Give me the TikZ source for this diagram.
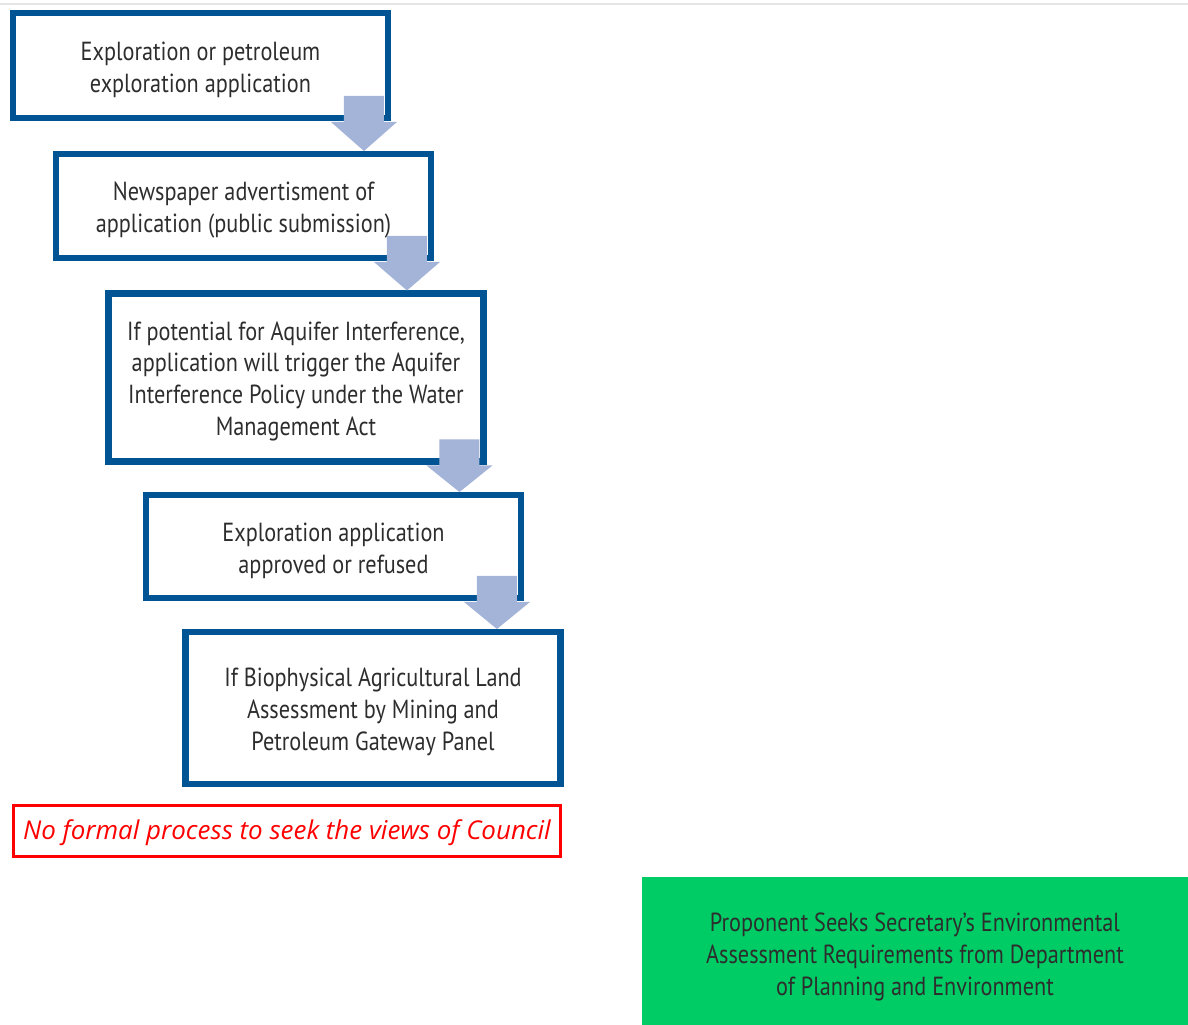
\documentclass[tikz,border=0pt]{standalone}
\usepackage{fontspec}
\setmainfont{PT Sans}[FakeStretch=0.85]
\newfontfamily\notefont{Open Sans}
\usetikzlibrary{calc}
\definecolor{stepframe}{RGB}{0,84,147}
\definecolor{steparrow}{RGB}{163,180,216}
\definecolor{noteframe}{RGB}{255,0,0}
\definecolor{panelgreen}{RGB}{0,204,102}
\definecolor{textgrey}{RGB}{45,45,45}

% block arrow from the lower right corner of one step down to the next step
\newcommand{\steparrowfrom}[2]{%
  \coordinate (#1base) at ($(#1.south east)+(-24,4)$);
  \coordinate (#1tip) at ($(#2.north)+(0,-3)$);
  \fill[steparrow] ($(#1base)+(-20,-26)$) -- ($(#1base)+(20,-26)$) -- ($(#1base)+(20,0)$)
    -- ($(#1base)+(33,0)$) -- (#1base |- #1tip) -- ($(#1base)+(-33,0)$) -- ($(#1base)+(-20,0)$) -- cycle;
}
% taller first line, pushes the text block down a little
\newcommand{\toppad}{\rule{0pt}{0.53cm}}

\tikzset{
  stepbox/.style={draw=stepframe, line width=0.13cm, minimum width=7.5cm, outer sep=0pt,
    align=center, text=textgrey, font=\fontsize{14.9}{18.2}\selectfont},
}

\begin{document}
\begin{tikzpicture}[x=0.02cm, y=-0.02cm]
			\useasboundingbox (0,0) rectangle (1188,1025);
			\draw [black!10, line width=0.03cm] (0,4) -- (1188,4);

			\node [stepbox, minimum height=2.1cm] (application) at (200.5,65.5) {\toppad Exploration or petroleum\\exploration application};
			\node [stepbox, minimum height=2.08cm] (advert) at (243.5,206) {\toppad Newspaper advertisment of\\application (public submission)};
			\node [stepbox, minimum height=3.36cm] (aquifer) at (296,377.5) {\toppad If potential for Aquifer Interference,\\application will trigger the Aquifer\\Interference Policy under the Water\\Management Act};
			\node [stepbox, minimum height=2.06cm] (decision) at (333.5,546.5) {\toppad Exploration application\\approved or refused};
			\node [stepbox, minimum height=3.04cm] (gateway) at (373,708) {\toppad If Biophysical Agricultural Land\\Assessment by Mining and\\Petroleum Gateway Panel};

			\steparrowfrom{application}{advert}
			\steparrowfrom{advert}{aquifer}
			\steparrowfrom{aquifer}{decision}
			\steparrowfrom{decision}{gateway}

			\node [draw=noteframe, line width=0.06cm, minimum width=10.94cm, minimum height=1.02cm, outer sep=0pt,
				text=noteframe, font=\notefont\itshape\fontsize{14.75}{18}\selectfont, text height=0.46cm] (council) at (287,831) {No formal process to seek the views of Council};

			\node [fill=panelgreen, minimum width=10.92cm, minimum height=2.96cm, outer sep=0pt, align=center,
				text=textgrey, font=\fontsize{14.9}{18.2}\selectfont] (sear) at (915,951) {\rule{0pt}{0.6cm}Proponent Seeks Secretary's Environmental\\Assessment Requirements from Department\\of Planning and Environment};
		\end{tikzpicture}
\end{document}
